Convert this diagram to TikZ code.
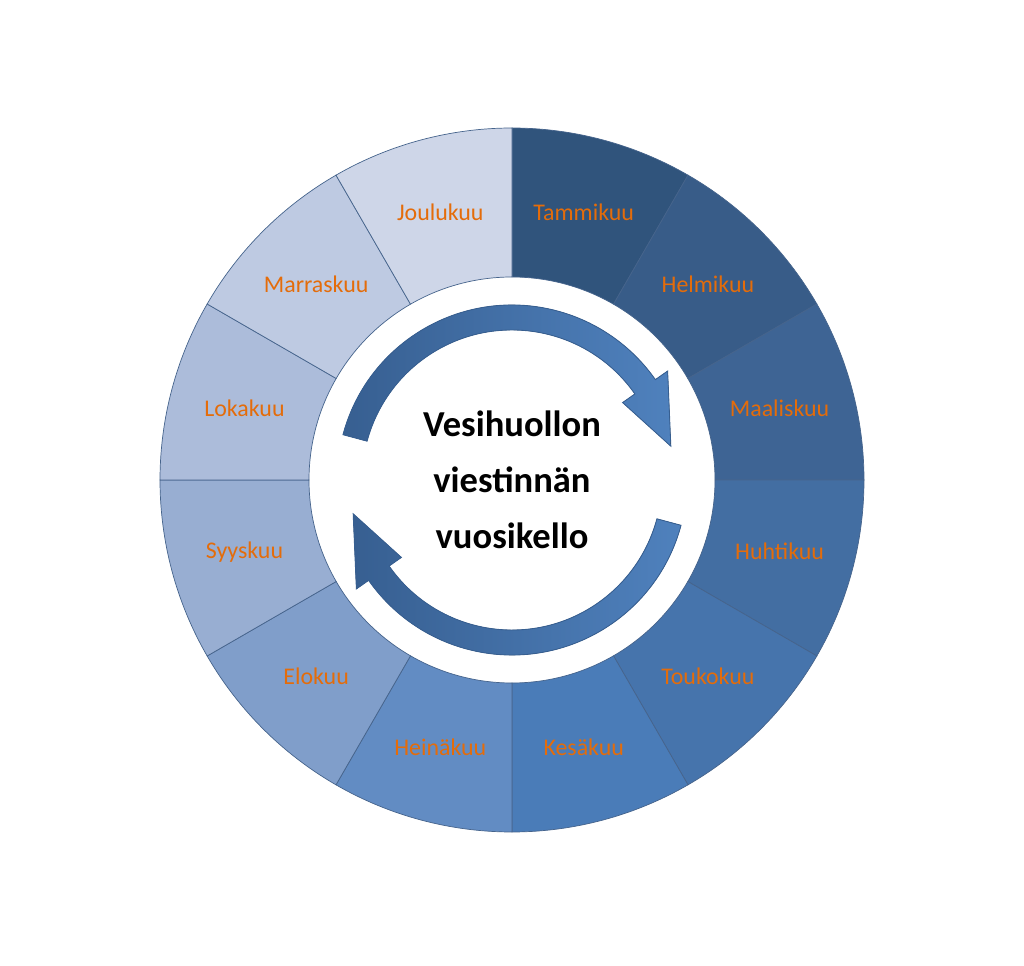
\documentclass[tikz,border=0pt]{standalone}
\usepackage{fontspec}
\setmainfont{Carlito}
\usetikzlibrary{calc}
\definecolor{kuu1}{RGB}{48,84,124}
\definecolor{kuu2}{RGB}{56,92,136}
\definecolor{kuu3}{RGB}{62,100,148}
\definecolor{kuu4}{RGB}{67,110,162}
\definecolor{kuu5}{RGB}{70,116,172}
\definecolor{kuu6}{RGB}{74,124,184}
\definecolor{kuu7}{RGB}{98,140,195}
\definecolor{kuu8}{RGB}{128,158,202}
\definecolor{kuu9}{RGB}{152,174,210}
\definecolor{kuu10}{RGB}{172,188,218}
\definecolor{kuu11}{RGB}{190,202,226}
\definecolor{kuu12}{RGB}{206,214,232}
\definecolor{viiva}{RGB}{70,100,140}
\definecolor{oranssi}{RGB}{228,108,10}
\definecolor{nuoli}{RGB}{79,129,189}
\definecolor{nuolitumma}{RGB}{55,95,145}
\tikzset{
  kuuteksti/.style={text=oranssi, font=\fontsize{17}{20}\selectfont},
  nuolimuoto/.style={left color=nuolitumma, right color=nuoli, draw=nuolitumma, line width=0.6pt},
}
\begin{document}
\begin{tikzpicture}
\useasboundingbox (0,0) rectangle (25.6,24.125);
\coordinate (c) at (12.8,12.125);

% renkaan lohkot
\foreach \i/\nimi in {1/Tammikuu,2/Helmikuu,3/Maaliskuu,4/Huhtikuu,5/Toukokuu,6/Kesäkuu,
  7/Heinäkuu,8/Elokuu,9/Syyskuu,10/Lokakuu,11/Marraskuu,12/Joulukuu}{
  \pgfmathsetmacro\a{90-30*(\i-1)}
  \pgfmathsetmacro\b{\a-30}
  \pgfmathsetmacro\m{\a-15}
  \fill[kuu\i, draw=viiva, line width=0.5pt] ($(c)+(\a:8.8)$) arc[start angle=\a, end angle=\b, radius=8.8]
    -- ($(c)+(\b:5.075)$) arc[start angle=\b, end angle=\a, radius=5.075] -- cycle;
  \node[kuuteksti] (k\i) at ($(c)+(\m:6.925)$) {\nimi};
}

% nuolet
\foreach \r in {0,180}{
  \begin{scope}[shift={(c)}, rotate=\r]
    \fill[nuolimuoto] (165:4.375) arc[start angle=165, end angle=35, radius=4.375]
      -- (35:4.75) -- (12:4.06) -- (35:3.375) -- (35:3.75)
      arc[start angle=35, end angle=165, radius=3.75] -- cycle;
  \end{scope}
}

\node[font=\bfseries\fontsize{26}{40}\selectfont, align=center] (otsikko) at (c) {Vesihuollon\\viestinnän\\vuosikello};
\end{tikzpicture}
\end{document}
